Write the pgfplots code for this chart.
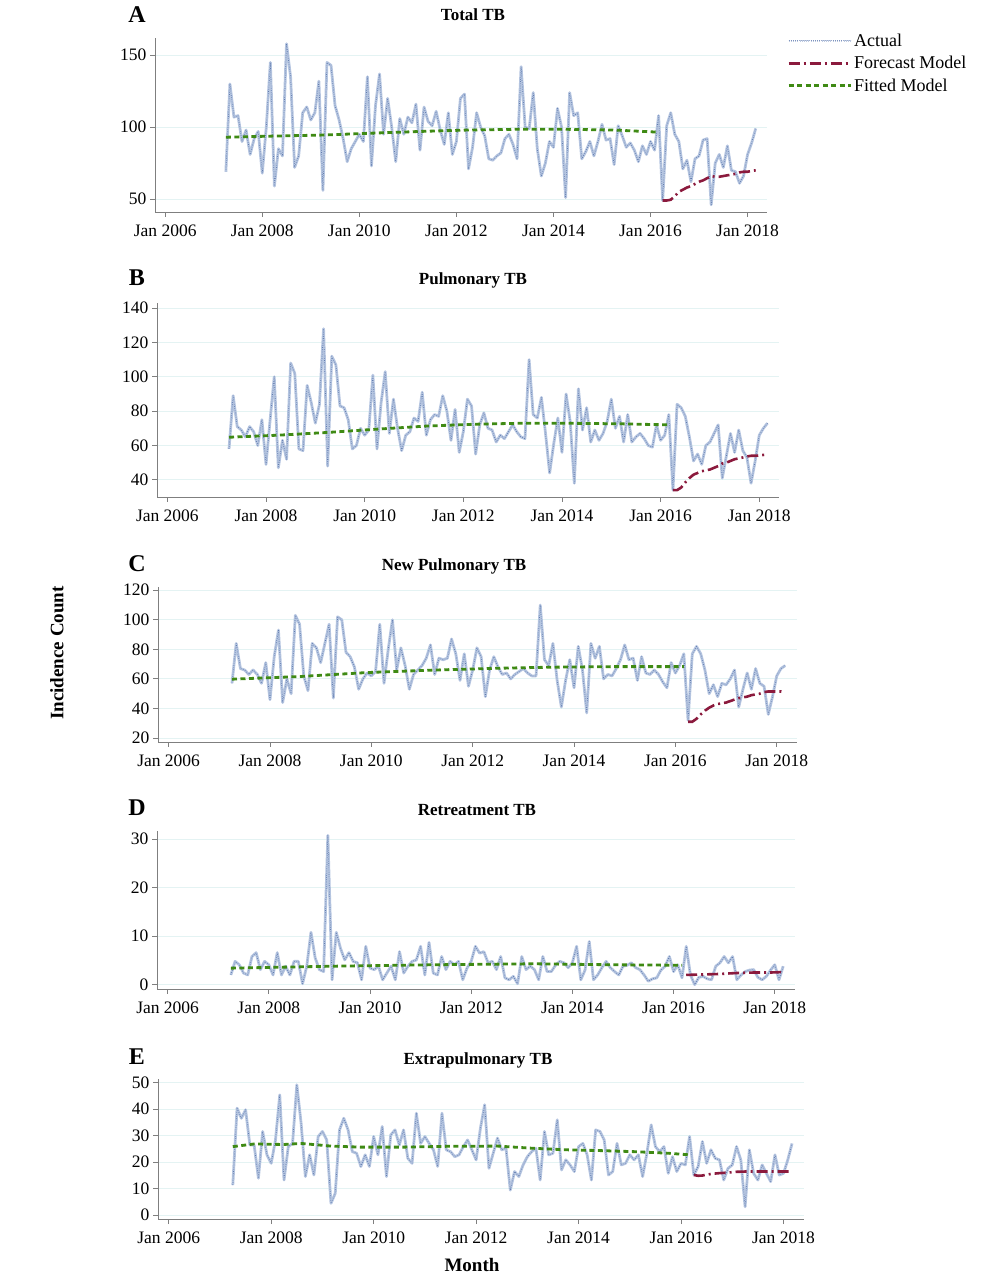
\documentclass[border=0pt]{standalone}
\usepackage{fontspec}
\setmainfont{Liberation Serif}
\usepackage{pgfplots}
\usepackage{pgfplotstable}
\pgfplotsset{compat=1.18}
\definecolor{actlight}{HTML}{B5C5E0}
\definecolor{actdark}{HTML}{3E5C9A}
\definecolor{fcred}{HTML}{8B1A3D}
\definecolor{fitgreen}{HTML}{3F8A14}
\definecolor{axgray}{HTML}{7F7F7F}
\definecolor{gridc}{HTML}{E4F3F3}

% Actual monthly counts, Apr 2007 ... Mar 2018
\pgfplotstableread[row sep=\\]{v\\69\\130\\107\\108\\90\\98\\81\\92\\97\\68\\100\\145\\59\\85\\80\\158\\135\\72\\80\\110\\114\\105\\110\\132\\56\\145\\143\\115\\105\\92\\76\\85\\90\\95\\90\\135\\73\\115\\137\\95\\120\\100\\76\\106\\95\\107\\103\\116\\84\\114\\104\\101\\111\\98\\88\\110\\81\\90\\120\\123\\71\\86\\110\\100\\94\\78\\77\\80\\82\\92\\95\\88\\78\\142\\100\\99\\124\\85\\66\\75\\90\\86\\113\\100\\51\\124\\108\\110\\78\\83\\90\\80\\90\\102\\91\\92\\74\\101\\94\\86\\89\\84\\76\\87\\81\\90\\84\\108\\49\\101\\110\\95\\90\\71\\77\\62\\78\\80\\91\\92\\46\\75\\81\\72\\87\\70\\69\\61\\66\\81\\89\\99\\}\dataA
\pgfplotstableread[row sep=\\]{v\\58\\89\\71\\69\\65\\71\\68\\60\\75\\49\\75\\100\\47\\63\\52\\108\\102\\58\\57\\95\\85\\73\\84\\128\\48\\112\\107\\83\\82\\75\\58\\60\\70\\66\\69\\101\\58\\85\\103\\67\\87\\70\\57\\66\\68\\76\\74\\91\\66\\75\\78\\77\\89\\80\\63\\81\\56\\68\\87\\83\\55\\72\\79\\70\\69\\62\\66\\64\\68\\72\\68\\65\\64\\110\\78\\76\\88\\67\\44\\61\\76\\56\\90\\74\\38\\93\\69\\82\\62\\69\\63\\67\\74\\87\\70\\77\\62\\78\\62\\65\\67\\64\\60\\59\\72\\63\\66\\78\\34\\84\\82\\77\\65\\51\\55\\49\\60\\62\\67\\72\\41\\54\\67\\56\\69\\57\\53\\38\\51\\66\\70\\73\\}\dataB
\pgfplotstableread[row sep=\\]{v\\57\\84\\67\\66\\63\\66\\63\\57\\71\\46\\75\\93\\44\\60\\50\\103\\97\\62\\52\\84\\81\\71\\84\\97\\47\\102\\100\\78\\75\\68\\53\\60\\64\\62\\65\\97\\57\\80\\100\\66\\81\\69\\53\\63\\66\\69\\74\\83\\63\\74\\73\\74\\87\\77\\59\\77\\55\\66\\81\\75\\48\\66\\75\\68\\63\\64\\60\\63\\65\\67\\64\\62\\62\\110\\73\\69\\84\\59\\41\\59\\73\\54\\82\\66\\37\\84\\74\\82\\60\\63\\62\\67\\73\\83\\73\\74\\59\\75\\64\\63\\66\\63\\58\\54\\71\\64\\69\\77\\32\\77\\82\\77\\66\\50\\56\\48\\57\\56\\60\\66\\41\\53\\64\\53\\67\\57\\55\\36\\48\\62\\67\\69\\}\dataC
\pgfplotstableread[row sep=\\]{v\\2\\4.8\\4.1\\2.4\\2\\5.8\\6.6\\3.1\\4.8\\4.1\\2\\6.6\\2\\3.8\\2\\4.8\\4.8\\0.2\\3.8\\10.8\\5.5\\3.1\\2.7\\30.8\\1\\10.8\\7.5\\5.1\\6.6\\4.8\\4.5\\1\\7.9\\3.4\\3.1\\3.8\\1\\2.4\\3.8\\1\\6.8\\2.4\\3.8\\4.8\\5.1\\7.9\\2\\8.7\\2.4\\2\\5.8\\3.1\\4.8\\4.1\\4.8\\1\\3.4\\4.8\\7.9\\6.5\\6.8\\4.5\\4.8\\3.1\\5.8\\1.4\\1\\1.7\\0.2\\5.8\\3.1\\3.8\\3.1\\1\\5.8\\2.7\\2.7\\4\\4.8\\4.5\\3.5\\4.5\\7.9\\1\\3\\8.9\\1\\2\\3.5\\4.8\\3.5\\2.7\\2\\3.8\\4\\4.5\\3.5\\3.1\\2\\0.7\\1.2\\1.4\\3\\3.8\\5.8\\2.7\\4.1\\1.4\\7.9\\2\\0\\1.5\\1.7\\1.2\\1\\3.8\\4.5\\5.8\\4.5\\5.8\\1\\2\\2.7\\3\\3.1\\1.5\\1\\1.7\\3\\4.1\\1\\3.8\\}\dataD
\pgfplotstableread[row sep=\\]{v\\11.3\\40.3\\36.5\\39.7\\26.4\\26.4\\13.9\\31.5\\22.7\\19.5\\28.3\\45.3\\13.2\\25.8\\27\\49.1\\34.6\\14.5\\22.7\\15.1\\29.6\\31.5\\28.3\\4.4\\8.2\\32.1\\36.5\\32.1\\23.9\\23.3\\18.3\\22.7\\18.3\\29.6\\22.7\\33.4\\14.5\\30.2\\32.1\\26.4\\32.1\\21.4\\19.5\\38.4\\27\\29.6\\27\\24.6\\18.3\\38.4\\24.6\\23.9\\22\\22.7\\25.8\\28.3\\24.6\\20.8\\32.7\\41.6\\17.6\\23.3\\29\\24.6\\25.2\\9.4\\16.4\\14.5\\18.9\\22\\23.9\\25.2\\13.2\\31.5\\22.7\\23.3\\35.9\\17\\20.8\\18.9\\16.4\\25.8\\27\\22.7\\13.2\\32.1\\31.5\\28.3\\15.1\\16.4\\27\\18.9\\19.5\\22.7\\20.8\\22.7\\14.5\\23.3\\34\\25.8\\23.9\\25.8\\15.7\\22\\16.4\\19.5\\18.9\\29.6\\15.1\\18.3\\27.7\\19.5\\24.6\\21.4\\20.8\\13.2\\17.6\\18.9\\25.8\\20.8\\3.1\\24.6\\15.7\\13.2\\18.9\\15.7\\12.6\\22.7\\15.1\\15.7\\20.8\\27\\}\dataE

% Fitted model (i = months after Apr 2007)
\pgfplotstableread[row sep=\\]{i v\\0 93\\12 93.8\\24 94.5\\36 95.8\\48 97\\60 98\\72 98.5\\84 98.5\\96 98\\107 96.5\\}\fitA
\pgfplotstableread[row sep=\\]{i v\\0 64.8\\12 66\\24 67.6\\36 69.5\\48 71.3\\60 72.4\\72 73\\84 72.9\\96 72.6\\107 72\\}\fitB
\pgfplotstableread[row sep=\\]{i v\\0 59.8\\16 61.6\\32 64.3\\48 66\\63 67.2\\75 67.9\\90 68.3\\107 68.3\\}\fitC
\pgfplotstableread[row sep=\\]{i v\\0 3.4\\24 3.8\\48 4.1\\72 4.3\\90 4.1\\107 4.0\\}\fitD
\pgfplotstableread[row sep=\\]{i v\\0 25.8\\5 26.8\\12 26.6\\16 27\\23 26\\30 25.6\\40 25.6\\50 25.9\\62 26\\70 25.2\\78 24.6\\86 24.3\\94 23.9\\102 23.3\\107 22.7\\}\fitE

% Forecast model
\pgfplotstableread[row sep=\\]{i v\\108 49\\109 49\\110 49.5\\111 52\\112 55\\113 56.5\\114 58\\115 59\\116 60.5\\117 62\\118 63\\119 64.5\\120 66\\121 65.5\\122 65.5\\123 66\\124 66.5\\125 67\\126 67.5\\127 68.5\\128 69\\129 69\\130 69.5\\131 70\\}\fcA
\pgfplotstableread[row sep=\\]{i v\\108 34\\109 34\\110 35.5\\111 38.5\\112 41\\113 43\\114 44\\115 45\\116 45.5\\117 46\\118 47\\119 48\\120 49.5\\121 50\\122 51\\123 52\\124 52.5\\125 53\\126 53.6\\127 54\\128 54\\129 54.2\\130 54.5\\131 54.7\\}\fcB
\pgfplotstableread[row sep=\\]{i v\\108 31\\109 31\\110 33\\111 36\\112 38.5\\113 40.5\\114 42\\115 43\\116 43.5\\117 44\\118 45\\119 46\\120 47\\121 47.5\\122 48\\123 49\\124 49.5\\125 50\\126 51\\127 51.5\\128 51.5\\129 51.5\\130 51.5\\131 51\\}\fcC
\pgfplotstableread[row sep=\\]{i v\\108 2.0\\112 2.1\\116 2.2\\120 2.4\\124 2.5\\128 2.5\\131 2.6\\}\fcD
\pgfplotstableread[row sep=\\]{i v\\108 15.1\\109 14.8\\110 14.9\\112 15.5\\114 15.8\\116 16\\118 16.3\\120 16.4\\124 16.4\\128 16.4\\131 16.4\\}\fcE

\tikzset{
  actbase/.style={actlight, line width=2.8pt, line join=round},
  actdots/.style={actdark, line width=0.7pt, dash pattern=on 0.7pt off 1.5pt, opacity=0.7, line join=round},
  fcst/.style={fcred, line width=2.6pt, dash pattern=on 11pt off 4pt on 2pt off 4pt},
  fitd/.style={fitgreen, line width=2.8pt, dash pattern=on 5pt off 3.5pt},
}
\pgfplotsset{
  panel/.style={
    scale only axis,
    xmin=2005.79, xmax=2018.4,
    axis x line*=bottom, axis y line*=left,
    xtick={2006,2008,2010,2012,2014,2016,2018},
    xticklabels={Jan 2006,Jan 2008,Jan 2010,Jan 2012,Jan 2014,Jan 2016,Jan 2018},
    ymajorgrids, grid style={draw=gridc, line width=0.8pt},
    axis line style={draw=axgray, line width=0.8pt},
    tick style={draw=axgray, line width=0.8pt},
    tick align=outside, major tick length=5pt,
    tick label style={font=\fontsize{17.5}{19}\selectfont},
    xticklabel style={yshift=-4.5pt},
    /pgf/number format/assume math mode=true,
  },
}
\newcommand{\actual}[1]{%
  \addplot[actbase, forget plot] table[x expr=2007.25+\coordindex/12, y=v] {#1};
  \addplot[actdots, forget plot] table[x expr=2007.25+\coordindex/12, y=v] {#1};}
\newcommand{\model}[2]{%
  \addplot[#1, forget plot] table[x expr=2007.25+\thisrow{i}/12, y=v] {#2};}

\begin{document}
\begin{tikzpicture}[x=1pt,y=1pt]
\useasboundingbox (0,0) rectangle (1000,1282);

% ---------- A ----------
\begin{axis}[panel, at={(155pt,1070pt)}, anchor=south west, width=612pt, height=174pt,
  ymin=41, ymax=162, ytick={50,100,150},
  legend cell align=left,
  legend style={draw=none, fill=none, at={(1.0327,1.037)}, anchor=north west,
    font=\fontsize{18}{20}\selectfont, inner sep=0pt, row sep=4.5pt}]
\addplot[actbase, forget plot] table[x expr=2007.25+\coordindex/12, y=v] {\dataA};
\addplot[actdots, legend image code/.code={%
  \draw[color=actlight!85!actdark,line width=2.2pt](0pt,0pt)--(62pt,0pt);
  \draw[actdark,line width=0.6pt,dash pattern=on 0.6pt off 1.4pt,opacity=0.5](0pt,0pt)--(62pt,0pt);}]
  table[x expr=2007.25+\coordindex/12, y=v] {\dataA};
\addlegendentry{Actual}
\addplot[fcst, legend image code/.code={\draw[fcst](0pt,0pt)--(62pt,0pt);}]
  table[x expr=2007.25+\thisrow{i}/12, y=v] {\fcA};
\addlegendentry{Forecast Model}
\addplot[fitd, legend image code/.code={\draw[fitd](0pt,0pt)--(62pt,0pt);}]
  table[x expr=2007.25+\thisrow{i}/12, y=v] {\fitA};
\addlegendentry{Fitted Model}
\end{axis}

% ---------- B ----------
\begin{axis}[panel, at={(157pt,785pt)}, anchor=south west, width=622pt, height=194pt,
  ymin=30, ymax=143, ytick={40,60,...,140}]
\actual{\dataB}
\model{fcst}{\fcB}
\model{fitd}{\fitB}
\end{axis}

% ---------- C ----------
\begin{axis}[panel, at={(158pt,540pt)}, anchor=south west, width=639pt, height=155pt,
  ymin=17.3, ymax=122.2, ytick={20,40,...,120}]
\actual{\dataC}
\model{fcst}{\fcC}
\model{fitd}{\fitC}
\end{axis}

% ---------- D ----------
\begin{axis}[panel, at={(157pt,293pt)}, anchor=south west, width=638pt, height=158pt,
  ymin=-0.9, ymax=31.7, ytick={0,10,20,30}]
\actual{\dataD}
\model{fcst}{\fcD}
\model{fitd}{\fitD}
\end{axis}

% ---------- E ----------
\begin{axis}[panel, at={(158pt,63pt)}, anchor=south west, width=646pt, height=140pt,
  ymin=-1.5, ymax=51.3, ytick={0,10,...,50}]
\actual{\dataE}
\model{fcst}{\fcE}
\model{fitd}{\fitE}
\end{axis}

% titles and panel letters
\begin{scope}[every node/.style={font=\bfseries\fontsize{17}{19}\selectfont}]
\node at (473pt,1267pt) {Total TB};
\node at (473pt,1002pt) {Pulmonary TB};
\node at (454pt,716pt) {New Pulmonary TB};
\node at (477pt,472pt) {Retreatment TB};
\node at (478pt,222pt) {Extrapulmonary TB};
\end{scope}
\begin{scope}[every node/.style={font=\bfseries\fontsize{24}{26}\selectfont}]
\node at (137pt,1267pt) {A};
\node at (137pt,1004pt) {B};
\node at (137pt,718pt) {C};
\node at (137pt,474pt) {D};
\node at (137pt,225pt) {E};
\end{scope}
\node[font=\bfseries\fontsize{19}{21}\selectfont, rotate=90] at (57pt,629pt) {Incidence Count};
\node[font=\bfseries\fontsize{19}{21}\selectfont] at (472pt,17pt) {Month};
\end{tikzpicture}
\end{document}
